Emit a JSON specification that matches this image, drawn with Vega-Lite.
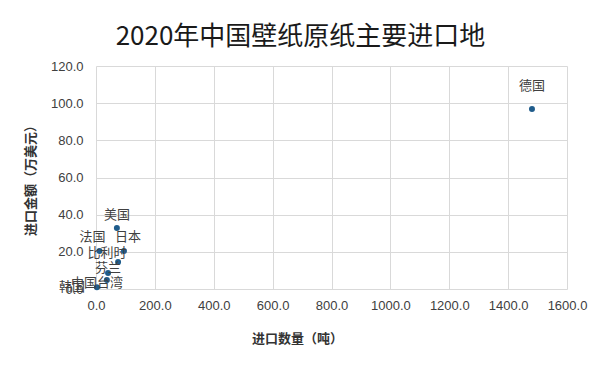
{
  "$schema": "https://vega.github.io/schema/vega-lite/v6.json",
  "autosize": {"type": "none"},
  "padding": {"left": 96, "top": 66, "right": 33, "bottom": 78},
  "width": 471,
  "height": 223,
  "background": "white",
  "title": {
    "text": "2020年中国壁纸原纸主要进口地",
    "font": "Noto Sans CJK SC",
    "fontSize": 26,
    "fontWeight": "normal",
    "color": "#1a1a1a",
    "anchor": "middle",
    "frame": "group",
    "dx": -31,
    "offset": 10
  },
  "data": {
    "values": [
      {"地区": "德国", "数量": 1481, "金额": 96.9},
      {"地区": "美国", "数量": 71, "金额": 32.8},
      {"地区": "法国", "数量": 12, "金额": 20.5},
      {"地区": "日本", "数量": 95, "金额": 20.5},
      {"地区": "比利时", "数量": 75, "金额": 14.5},
      {"地区": "芬兰", "数量": 41, "金额": 8.6},
      {"地区": "中国台湾", "数量": 37, "金额": 4.8},
      {"地区": "韩国", "数量": 3, "金额": 1.0}
    ]
  },
  "encoding": {
    "x": {
      "field": "数量",
      "type": "quantitative",
      "scale": {"domain": [0, 1600], "nice": false, "zero": true},
      "axis": {
        "title": "进口数量（吨）",
        "values": [0, 200, 400, 600, 800, 1000, 1200, 1400, 1600],
        "format": ".1f",
        "domain": false,
        "ticks": false,
        "labelOverlap": false,
        "labelFlush": false,
        "labelBound": false,
        "labelPadding": 10,
        "labelFont": "Liberation Sans",
        "labelFontSize": 13,
        "labelColor": "#404040",
        "gridColor": "#d9d9d9",
        "titleFont": "Noto Sans CJK SC",
        "titleFontSize": 13,
        "titleFontWeight": "bold",
        "titleColor": "#333333",
        "titleX": 201,
        "titleY": 49,
        "titleBaseline": "middle"
      }
    },
    "y": {
      "field": "金额",
      "type": "quantitative",
      "scale": {"domain": [0, 120], "nice": false},
      "axis": {
        "title": "进口金额（万美元）",
        "values": [0, 20, 40, 60, 80, 100, 120],
        "format": ".1f",
        "domain": false,
        "ticks": false,
        "labelOverlap": false,
        "labelFlush": false,
        "labelPadding": 13,
        "labelFont": "Liberation Sans",
        "labelFontSize": 13,
        "labelColor": "#404040",
        "gridColor": "#d9d9d9",
        "titleFont": "Noto Sans CJK SC",
        "titleFontSize": 13,
        "titleFontWeight": "bold",
        "titleColor": "#333333",
        "titleX": -66,
        "titleY": 111,
        "titleAngle": -90,
        "titleAlign": "center",
        "titleBaseline": "middle"
      }
    }
  },
  "layer": [
    {
      "mark": {"type": "circle", "size": 36, "color": "#1F5C8B", "opacity": 1}
    },
    {
      "transform": [{"filter": "datum['地区'] === '美国'"}],
      "mark": {"type": "text", "dy": -13, "font": "Noto Sans CJK SC", "fontSize": 13, "color": "#404040"},
      "encoding": {"text": {"field": "地区"}}
    },
    {
      "transform": [{"filter": "datum['地区'] === '德国'"}],
      "mark": {"type": "text", "dy": -23, "font": "Noto Sans CJK SC", "fontSize": 13, "color": "#404040"},
      "encoding": {"text": {"field": "地区"}}
    },
    {
      "transform": [{"filter": "datum['地区'] === '法国'"}],
      "mark": {"type": "text", "dx": -7, "dy": -14, "font": "Noto Sans CJK SC", "fontSize": 13, "color": "#404040"},
      "encoding": {"text": {"field": "地区"}}
    },
    {
      "transform": [{"filter": "datum['地区'] === '日本'"}],
      "mark": {"type": "text", "dx": 4, "dy": -14, "font": "Noto Sans CJK SC", "fontSize": 13, "color": "#404040"},
      "encoding": {"text": {"field": "地区"}}
    },
    {
      "transform": [{"filter": "datum['地区'] === '比利时'"}],
      "mark": {"type": "text", "dx": -11, "dy": -9, "font": "Noto Sans CJK SC", "fontSize": 13, "color": "#404040"},
      "encoding": {"text": {"field": "地区"}}
    },
    {
      "transform": [{"filter": "datum['地区'] === '芬兰'"}],
      "mark": {"type": "text", "dx": 0, "dy": -5, "font": "Noto Sans CJK SC", "fontSize": 13, "color": "#404040"},
      "encoding": {"text": {"field": "地区"}}
    },
    {
      "transform": [{"filter": "datum['地区'] === '中国台湾'"}],
      "mark": {"type": "text", "dx": -10, "dy": 3, "font": "Noto Sans CJK SC", "fontSize": 13, "color": "#404040"},
      "encoding": {"text": {"field": "地区"}}
    },
    {
      "transform": [{"filter": "datum['地区'] === '韩国'"}],
      "mark": {"type": "text", "dx": -25, "dy": 0, "font": "Noto Sans CJK SC", "fontSize": 13, "color": "#404040"},
      "encoding": {"text": {"field": "地区"}}
    }
  ],
  "config": {"view": {"stroke": null}}
}
